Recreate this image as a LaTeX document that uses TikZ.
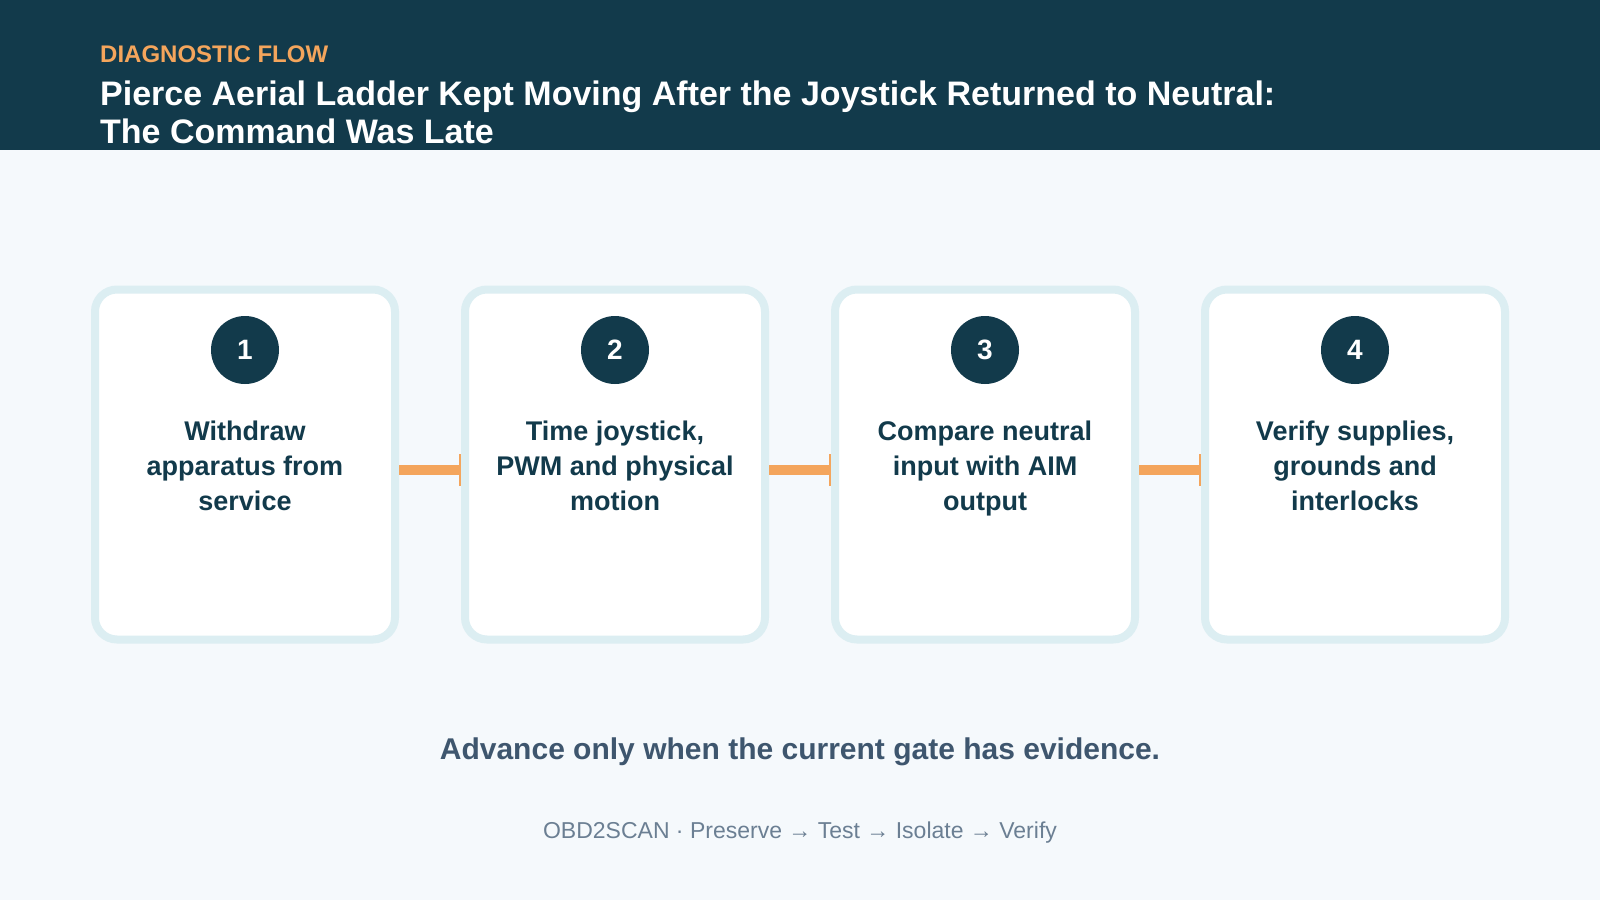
\documentclass[tikz,border=0pt]{standalone}
\usepackage{fontspec}
\setmainfont{Liberation Sans}
\usetikzlibrary{arrows.meta, positioning}

\definecolor{navy}{HTML}{123A4B}
\definecolor{amber}{HTML}{F4A55C}
\definecolor{paper}{HTML}{F5F9FC}
\definecolor{rim}{HTML}{DCEEF2}
\definecolor{slate}{HTML}{3E566E}
\definecolor{mist}{HTML}{6B7F93}

\begin{document}
\begin{tikzpicture}[x=1pt, y=-1pt,
		card/.style={draw=rim, line width=8pt, fill=white, rounded corners=22pt,
			minimum width=300pt, minimum height=350pt, inner sep=0pt},
		numdot/.style={circle, fill=navy, text=white, minimum size=68pt, inner sep=0pt,
			font=\bfseries\fontsize{28}{28}\selectfont},
		cardtext/.style={anchor=base, align=center, text=navy, inner sep=0pt,
			font=\bfseries\fontsize{27}{35}\selectfont},
		link/.style={draw=amber, line width=10pt, -{Bar[width=32pt, line width=1.6pt]}}]
				\useasboundingbox (0,0) rectangle (1600,900);
				\fill[paper] (0,0) rectangle (1600,900);
				\fill[navy] (0,0) rectangle (1600,150);
				
				% header
				\node[anchor=base west, inner sep=0pt, text=amber, font=\bfseries\fontsize{24}{24}\selectfont] (kicker) at (100,62) {DIAGNOSTIC FLOW};
				\node[anchor=base west, inner sep=0pt, align=left, text=white, font=\bfseries\fontsize{34}{38}\selectfont] (title) at (100,143)
					{Pierce Aerial Ladder Kept Moving After the Joystick Returned to Neutral:\\The Command Was Late};
				
				% cards
				\node[card] (b1) at (245,464.5) {};
				\node[card] (b2) at (615,464.5) {};
				\node[card] (b3) at (985,464.5) {};
				\node[card] (b4) at (1355,464.5) {};
				
				\node[numdot] (n1) at (245,350) {1};
				\node[numdot] (n2) at (615,350) {2};
				\node[numdot] (n3) at (985,350) {3};
				\node[numdot] (n4) at (1355,350) {4};
				
				\node[cardtext] (t1) at (245,510) {Withdraw\\apparatus from\\service};
				\node[cardtext] (t2) at (615,510) {Time joystick,\\PWM and physical\\motion};
				\node[cardtext] (t3) at (985,510) {Compare neutral\\input with AIM\\output};
				\node[cardtext] (t4) at (1355,510) {Verify supplies,\\grounds and\\interlocks};
				
				\draw[link] ([yshift=-5.5pt]b1.east) -- ([yshift=-5.5pt]b2.west);
				\draw[link] ([yshift=-5.5pt]b2.east) -- ([yshift=-5.5pt]b3.west);
				\draw[link] ([yshift=-5.5pt]b3.east) -- ([yshift=-5.5pt]b4.west);
				
				% footer
				\node[anchor=base, inner sep=0pt, text=slate, font=\bfseries\fontsize{30}{30}\selectfont] (rule) at (800,759)
					{Advance only when the current gate has evidence.};
				\node[anchor=base, inner sep=0pt, text=mist, font=\fontsize{23}{23}\selectfont] (brand) at (800,838)
					{OBD2SCAN · Preserve → Test → Isolate → Verify};
			\end{tikzpicture}
\end{document}
